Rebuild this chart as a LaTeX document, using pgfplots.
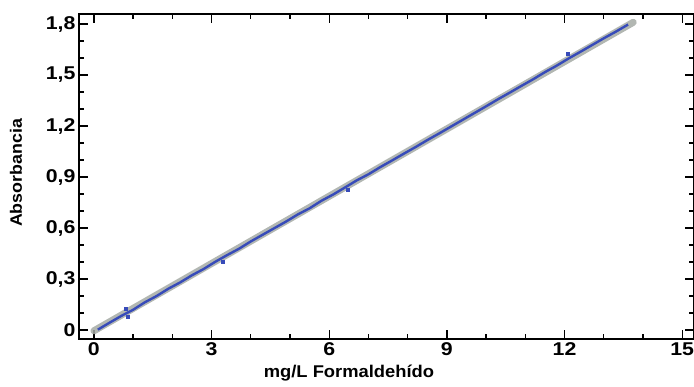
\documentclass[border=0pt]{standalone}
\usepackage{pgfplots}
\pgfplotsset{compat=1.18}
\usepackage{fontspec}
\setmainfont{Liberation Sans}
\newfontfamily\tickfont[FakeStretch=1.15]{Liberation Sans}
\newfontfamily\labfont[FakeStretch=1.08]{Liberation Sans}
\definecolor{lineblue}{RGB}{55,75,185}
\definecolor{bandgray}{RGB}{165,170,165}
\begin{document}
\begin{tikzpicture}
\useasboundingbox (-79pt,-48pt) rectangle (615pt,339pt);
\begin{axis}[
  at={(0pt,0pt)}, anchor=south west,
  scale only axis, width=615pt, height=325pt,
  xmin=-0.38, xmax=15.3, ymin=-0.053, ymax=1.859,
  xtick={0,3,6,9,12,15}, ytick={0,0.3,0.6,0.9,1.2,1.5,1.8},
  minor x tick num=2, minor y tick num=2,
  tick align=inside,
  major tick length=9pt, minor tick length=5pt,
  every tick/.style={black, line width=1.4pt},
  axis line style={line width=1.6pt},
  /pgf/number format/assume math mode=true,
  /pgf/number format/use comma,
  /pgf/number format/fixed,
  /pgf/number format/precision=1,
  ticklabel style={font=\tickfont\bfseries\fontsize{18.5}{20}\selectfont},
  xlabel={mg/L Formaldehído},
  ylabel={Absorbancia},
  xlabel style={font=\labfont\bfseries\fontsize{17}{19}\selectfont, at={(rel axis cs:0.439,0)}, anchor=base, yshift=-39pt},
  ylabel style={font=\labfont\bfseries\fontsize{16.5}{19}\selectfont, at={(rel axis cs:0,0.511)}, anchor=center, yshift=63pt},
  clip=false,
]
\addplot[bandgray, opacity=0.85, line width=7pt, line cap=round] coordinates {(0.0,-0.005) (13.75,1.81)};
\addplot[lineblue, line width=2.4pt, line join=round] coordinates {
(0.10,0.002) (0.40,0.043) (0.70,0.083) (1.00,0.119) (1.30,0.163) (1.60,0.200)
(1.90,0.243) (2.20,0.280) (2.50,0.322) (2.80,0.359) (3.10,0.402) (3.40,0.441)
(3.70,0.478) (4.00,0.521) (4.30,0.560) (4.60,0.599) (4.90,0.638) (5.20,0.680)
(5.50,0.716) (5.80,0.760) (6.10,0.797) (6.40,0.838) (6.70,0.880) (7.00,0.916)
(7.30,0.958) (7.60,0.997) (7.90,1.037) (8.20,1.076) (8.50,1.117) (8.80,1.156)
(9.10,1.196) (9.40,1.236) (9.70,1.276) (10.00,1.316) (10.30,1.357) (10.60,1.396)
(10.90,1.436) (11.20,1.475) (11.50,1.517) (11.80,1.555) (12.10,1.597) (12.40,1.636)
(12.70,1.676) (13.00,1.716) (13.30,1.754) (13.62,1.797)};
\addplot[only marks, mark=square*, mark size=1.5pt, lineblue] coordinates {
(0.87,0.076) (0.80,0.125) (3.29,0.400) (6.48,0.823) (12.07,1.625)};
\end{axis}
\end{tikzpicture}
\end{document}
